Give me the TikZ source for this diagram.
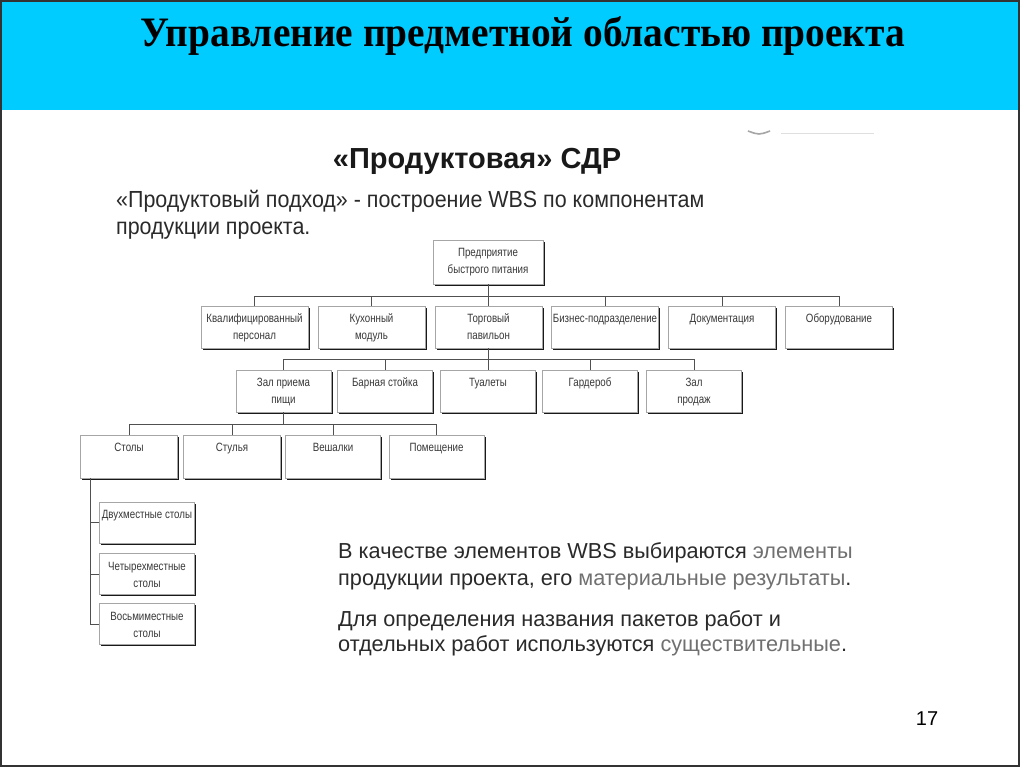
\documentclass[tikz,border=0pt]{standalone}
\usepackage{fontspec}
\setmainfont{Liberation Serif}
\newfontfamily\arial{Liberation Sans}
\newfontfamily\narrow[FakeStretch=0.81]{Liberation Sans}
\newfontfamily\semi[FakeStretch=0.92]{Liberation Sans}
\usetikzlibrary{shadows,calc}
\definecolor{band}{HTML}{00CCFF}
\definecolor{txt}{HTML}{2A2A2A}
\definecolor{hl}{HTML}{707070}
\definecolor{boxtxt}{HTML}{383838}
\definecolor{conn}{HTML}{505050}
\newcommand{\bxt}[3]{\parbox[c][#2][t]{#1}{\centering\fontsize{12}{17}\selectfont\rule{0pt}{16.5pt}#3}}
\tikzset{
  wbs/.style={draw=gray!70, line width=0.6pt, fill=white, inner sep=0pt, text=boxtxt,
    font=\narrow, drop shadow={shadow xshift=1.8pt, shadow yshift=-1.8pt, fill=black, opacity=0.9}},
  conline/.style={draw=conn, line width=0.8pt},
  bodytext/.style={font=\arial\fontsize{21.7}{24}\selectfont, text=txt, inner sep=0pt, anchor=base west},
  introtext/.style={font=\semi\fontsize{23.3}{26}\selectfont, text=txt, inner sep=0pt, anchor=base west},
}
\begin{document}
\begin{tikzpicture}[x=1pt,y=-1pt]
\useasboundingbox (0,0) rectangle (1024,768);
\fill[white] (0,0) rectangle (1024,768);
\fill[band] (1,1) rectangle (1019,110);
\draw[black!80, line width=2pt] (1,1) rectangle (1019,766);
% title
\node[inner sep=0pt, anchor=base west] (title) at (140,47)
  {\resizebox{765pt}{30pt}{\bfseries Управление предметной областью проекта}};
% faint logo
\draw[gray!70, line width=1.6pt] (748,131) .. controls (759,135) .. (770,131);
\draw[gray!25, line width=1pt] (781,133) -- (874,133);
% subtitle
\node[font=\arial\bfseries\fontsize{29}{31}\selectfont, text=black!90, inner sep=0pt, anchor=base] (sub) at (477,168) {«Продуктовая» СДР};
\node[introtext] (p1) at (116,207) {«Продуктовый подход» - построение WBS по компонентам};
\node[introtext] (p2) at (116,234) {продукции проекта.};
% top
\node[wbs] (top) at (488,262) {\bxt{110pt}{44pt}{Предприятие\\быстрого питания}};
% level 2
\node[wbs] (k1) at (254.5,327) {\bxt{107pt}{42pt}{Квалифицированный\\персонал}};
\node[wbs] (k2) at (371.5,327) {\bxt{107pt}{42pt}{Кухонный\\модуль}};
\node[wbs] (k3) at (488.5,327) {\bxt{107pt}{42pt}{Торговый\\павильон}};
\node[wbs] (k4) at (605,327) {\bxt{107pt}{42pt}{\mbox{Бизнес-подразделение}}};
\node[wbs] (k5) at (722,327) {\bxt{107pt}{42pt}{Документация}};
\node[wbs] (k6) at (839,327) {\bxt{107pt}{42pt}{Оборудование}};
% level 3
\node[wbs] (t1) at (283.5,391) {\bxt{95pt}{42pt}{Зал приема\\пищи}};
\node[wbs] (t2) at (385,391) {\bxt{95pt}{42pt}{Барная стойка}};
\node[wbs] (t3) at (488,391) {\bxt{95pt}{42pt}{Туалеты}};
\node[wbs] (t4) at (590,391) {\bxt{95pt}{42pt}{Гардероб}};
\node[wbs] (t5) at (694,391) {\bxt{95pt}{42pt}{Зал\\продаж}};
% level 4
\node[wbs] (s1) at (129,456.5) {\bxt{97pt}{43pt}{Столы}};
\node[wbs] (s2) at (232,456.5) {\bxt{97pt}{43pt}{Стулья}};
\node[wbs] (s3) at (333,456.5) {\bxt{95pt}{43pt}{Вешалки}};
\node[wbs] (s4) at (436.5,456.5) {\bxt{95pt}{43pt}{Помещение}};
% level 5
\node[wbs] (d1) at (147,522.5) {\bxt{95pt}{41pt}{\mbox{Двухместные столы}}};
\node[wbs] (d2) at (147,574) {\bxt{95pt}{41pt}{Четырехместные\\столы}};
\node[wbs] (d3) at (147,624) {\bxt{95pt}{41pt}{Восьмиместные\\столы}};
% connectors
\coordinate (h2) at ($(top.south)+(0,12)$);
\draw[conline] (top.south) -- (h2);
\draw[conline] (k1.north) |- (h2) -| (k6.north);
\foreach \n in {k2,k3,k4,k5} \draw[conline] (\n.north) -- (\n.north |- h2);
\coordinate (h3) at ($(k3.south)+(0,11)$);
\draw[conline] (k3.south) -- (h3);
\draw[conline] (t1.north) |- (h3) -| (t5.north);
\foreach \n in {t2,t3,t4} \draw[conline] (\n.north) -- (\n.north |- h3);
\coordinate (h4) at ($(t1.south)+(0,12)$);
\draw[conline] (t1.south) -- (h4);
\draw[conline] (s1.north) |- (h4) -| (s4.north);
\foreach \n in {s2,s3} \draw[conline] (\n.north) -- (\n.north |- h4);
\coordinate (v5) at ($(s1.south west)+(10.5,0)$);
\draw[conline] (v5) |- (d3.west);
\foreach \n in {d1,d2} \draw[conline] (\n.west) -- (\n.west -| v5);
% bottom text
\node[bodytext] (b1) at (338,558) {В качестве элементов WBS выбираются \textcolor{hl}{элементы}};
\node[bodytext] (b2) at (338,585) {продукции проекта, его \textcolor{hl}{материальные результаты}.};
\node[bodytext] (b3) at (338,626) {Для определения названия пакетов работ и};
\node[bodytext] (b4) at (338,651) {отдельных работ используются \textcolor{hl}{существительные}.};
% page number
\node[font=\arial\fontsize{20}{22}\selectfont, text=black, inner sep=0pt, anchor=base] (num) at (927,725) {17};
\end{tikzpicture}
\end{document}
